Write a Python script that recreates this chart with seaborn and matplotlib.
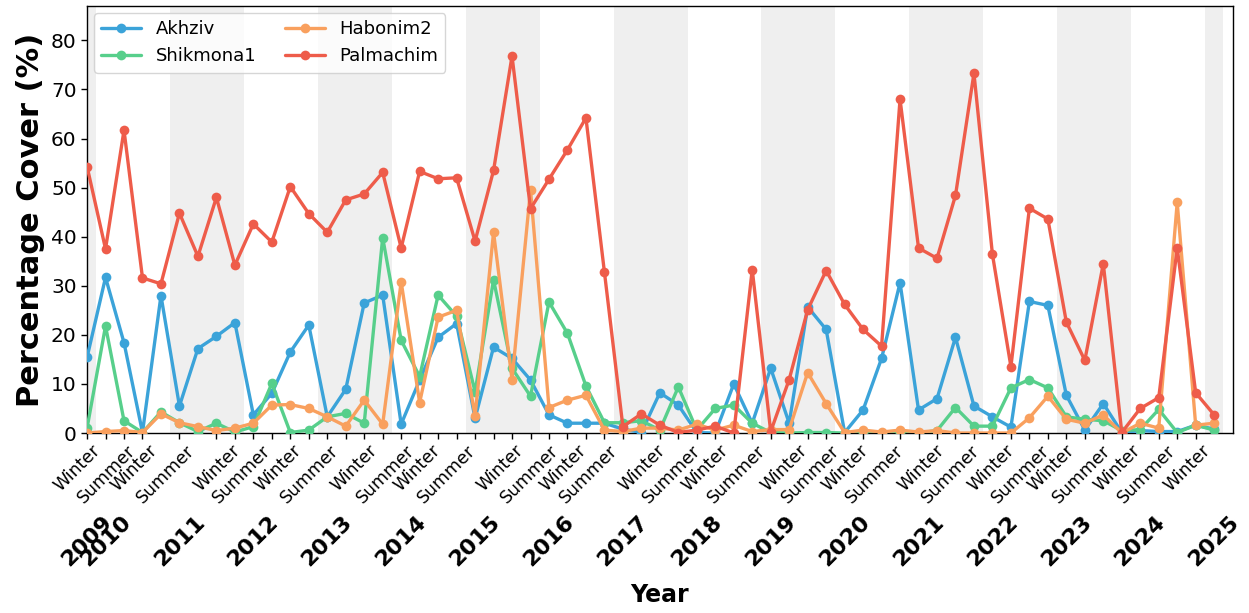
# ==================================
# SEAGRASS / ALGAE PERCENTAGE COVER PER SITE
# ==================================
import pandas as pd
import numpy as np
import matplotlib.pyplot as plt
import seaborn as sns

# ==================================
# DATA (one value per survey, survey index 0..61)
# ==================================
akhziv = [15.4, 31.7, 18.4, 0.1, 28.0, 5.5, 17.2, 19.7, 22.5, 3.7,
          8.1, 16.5, 22.0, 3.3, 8.9, 26.5, 28.1, 1.8, 10.8, 19.5,
          22.3, 3.0, 17.5, 15.2, 10.8, 3.7, 2.0, 2.0, 2.0, 0.8,
          0.1, 8.2, 5.7, 0.1, 0.0, 10.0, 2.0, 13.2, 2.0, 25.7,
          21.1, 0.1, 4.7, 15.2, 30.6, 4.7, 7.0, 19.5, 5.5, 3.3,
          1.2, 26.8, 26.0, 7.7, 0.6, 6.0, 0.1, 0.5, 0.3, 0.3,
          1.6, 0.8]
shikmona1 = [1.0, 21.8, 2.5, 0.1, 4.3, 2.1, 0.3, 2.0, 0.2, 1.3,
             10.1, 0.1, 0.6, 3.3, 4.0, 2.0, 39.8, 18.9, 11.5, 28.1,
             23.8, 8.4, 31.2, 13.2, 7.5, 26.7, 20.3, 9.6, 2.1, 2.1,
             2.5, 0.6, 9.4, 0.6, 5.0, 5.7, 2.0, 0.1, 0.0, 0.1,
             0.1, 0.0, 0.0, 0.0, 0.0, 0.0, 0.5, 5.2, 1.4, 1.4,
             9.2, 10.9, 9.2, 3.3, 2.8, 2.5, 0.5, 0.7, 4.8, 0.1,
             1.6, 0.6]
habonim2 = [0.0, 0.3, 0.5, 0.1, 3.9, 2.1, 1.3, 0.5, 1.0, 2.0,
            5.7, 5.8, 5.0, 3.3, 1.4, 6.7, 1.8, 30.8, 6.2, 23.6,
            25.0, 3.5, 40.9, 10.9, 49.5, 5.2, 6.7, 7.7, 0.6, 0.3,
            1.0, 1.0, 0.6, 1.8, 0.6, 1.6, 0.3, 0.7, 0.7, 12.3,
            6.0, 0.1, 0.6, 0.2, 0.6, 0.2, 0.5, 0.0, 0.0, 0.0,
            0.0, 3.1, 7.5, 2.8, 2.0, 3.7, 0.0, 2.0, 1.0, 47.0,
            1.6, 2.0]
palmachim = [54.3, 37.5, 61.7, 31.6, 30.4, 44.8, 36.0, 48.0, 34.2, 42.6,
             38.9, 50.2, 44.7, 40.9, 47.5, 48.7, 53.1, 37.7, 53.3, 51.8,
             52.0, 39.1, 53.5, 76.8, 45.7, 51.7, 57.7, 64.2, 32.8, 1.3,
             3.9, 1.6, 0.1, 0.6, 1.4, 0.0, 33.3, 0.3, 10.9, 25.1,
             33.1, 26.2, 21.1, 17.7, 68.0, 37.7, 35.6, 48.4, 73.3, 36.4,
             13.5, 45.8, 43.6, 22.6, 14.8, 34.5, 0.1, 5.0, 7.2, 37.7,
             8.2, 3.7]

sites = ["Akhziv", "Shikmona1", "Habonim2", "Palmachim"]
colors = ["#3BA3D9", "#57CF8B", "#F9A05E", "#EE5C4A"]

# year of each block of surveys (index of first survey in that year)
years = list(range(2009, 2026))
year_start = [0, 1, 5, 9, 13, 17, 21, 25, 29, 33, 37, 41, 45, 49, 53, 57, 61]

# season tick labels (position along the survey index)
season_pos = [0.9, 2.8, 4.0, 6.0, 8.5, 10.1, 11.8, 13.8, 15.9, 17.9,
              19.3, 21.2, 23.8, 25.7, 27.2, 28.9, 31.5, 33.4, 34.9, 36.9,
              39.2, 40.9, 42.5, 44.4, 46.6, 48.5, 50.4, 52.3, 53.6, 55.6,
              57.2, 59.1, 61.0]
season_lab = ["Winter", "Summer"] * 16 + ["Winter"]

# ==================================
# LONG FORMAT TABLE
# ==================================
n = len(akhziv)
df = pd.DataFrame({
  "idx": list(range(n)) * 4,
  "cover": akhziv + shikmona1 + habonim2 + palmachim,
  "site": [s for s in sites for _ in range(n)]
})

# ==================================
# PLOT
# ==================================
sns.set_style("white")
plt.rcParams['font.family'] = ['DejaVu Sans']
plt.rcParams['text.color'] = 'black'
plt.rcParams['axes.labelcolor'] = 'black'
plt.rcParams['xtick.color'] = 'black'
plt.rcParams['ytick.color'] = 'black'

fig = plt.figure(figsize=(12.49, 6.13), dpi=100)
ax = fig.add_axes([0.0697, 0.2936, 0.9172, 0.6966])

# alternate year shading
for i, y in enumerate(years):
  end = year_start[i + 1] if i + 1 < len(years) else n
  if (y - years[0]) % 2 == 0:
    ax.axvspan(year_start[i] - 0.5, end - 0.5, color="#d3d3d3", alpha=0.35,
               lw=0, zorder=0)

sns.lineplot(
  data=df, x="idx", y="cover", hue="site", hue_order=sites,
  palette=dict(zip(sites, colors)), marker="o", markersize=7,
  markeredgewidth=0, linewidth=2.4, ax=ax, zorder=3
)

ax.set_xlim(0, 62)
ax.set_ylim(0, 87)
ax.set_yticks(range(0, 81, 10))
ax.tick_params(axis="y", labelsize=14.5, length=4, width=1, left=True)

ax.set_xticks(season_pos)
ax.set_xticklabels(season_lab, rotation=45, ha="right", fontsize=12.5)
ax.set_xticks(range(n), minor=True)
ax.tick_params(axis="x", which="major", length=0, pad=6)
ax.tick_params(axis="x", which="minor", length=4, width=1, bottom=True)

for y, s in zip(years, year_start):
  ax.text(s, -0.185, str(y), transform=ax.get_xaxis_transform(),
          rotation=45, ha="center", va="top", fontsize=16,
          fontweight="bold")

for sp in ax.spines.values():
  sp.set_color("black")
  sp.set_linewidth(1)

ax.set_ylabel("Percentage Cover (%)", fontsize=22, fontweight="bold")
ax.set_xlabel("Year", fontsize=17, fontweight="bold", labelpad=55)

leg = ax.legend(loc="upper left", ncol=2, fontsize=13, frameon=True,
                borderaxespad=0.4, handlelength=2.2, columnspacing=1.6)
leg.set_title(None)

plt.savefig("out.png", dpi=100)
